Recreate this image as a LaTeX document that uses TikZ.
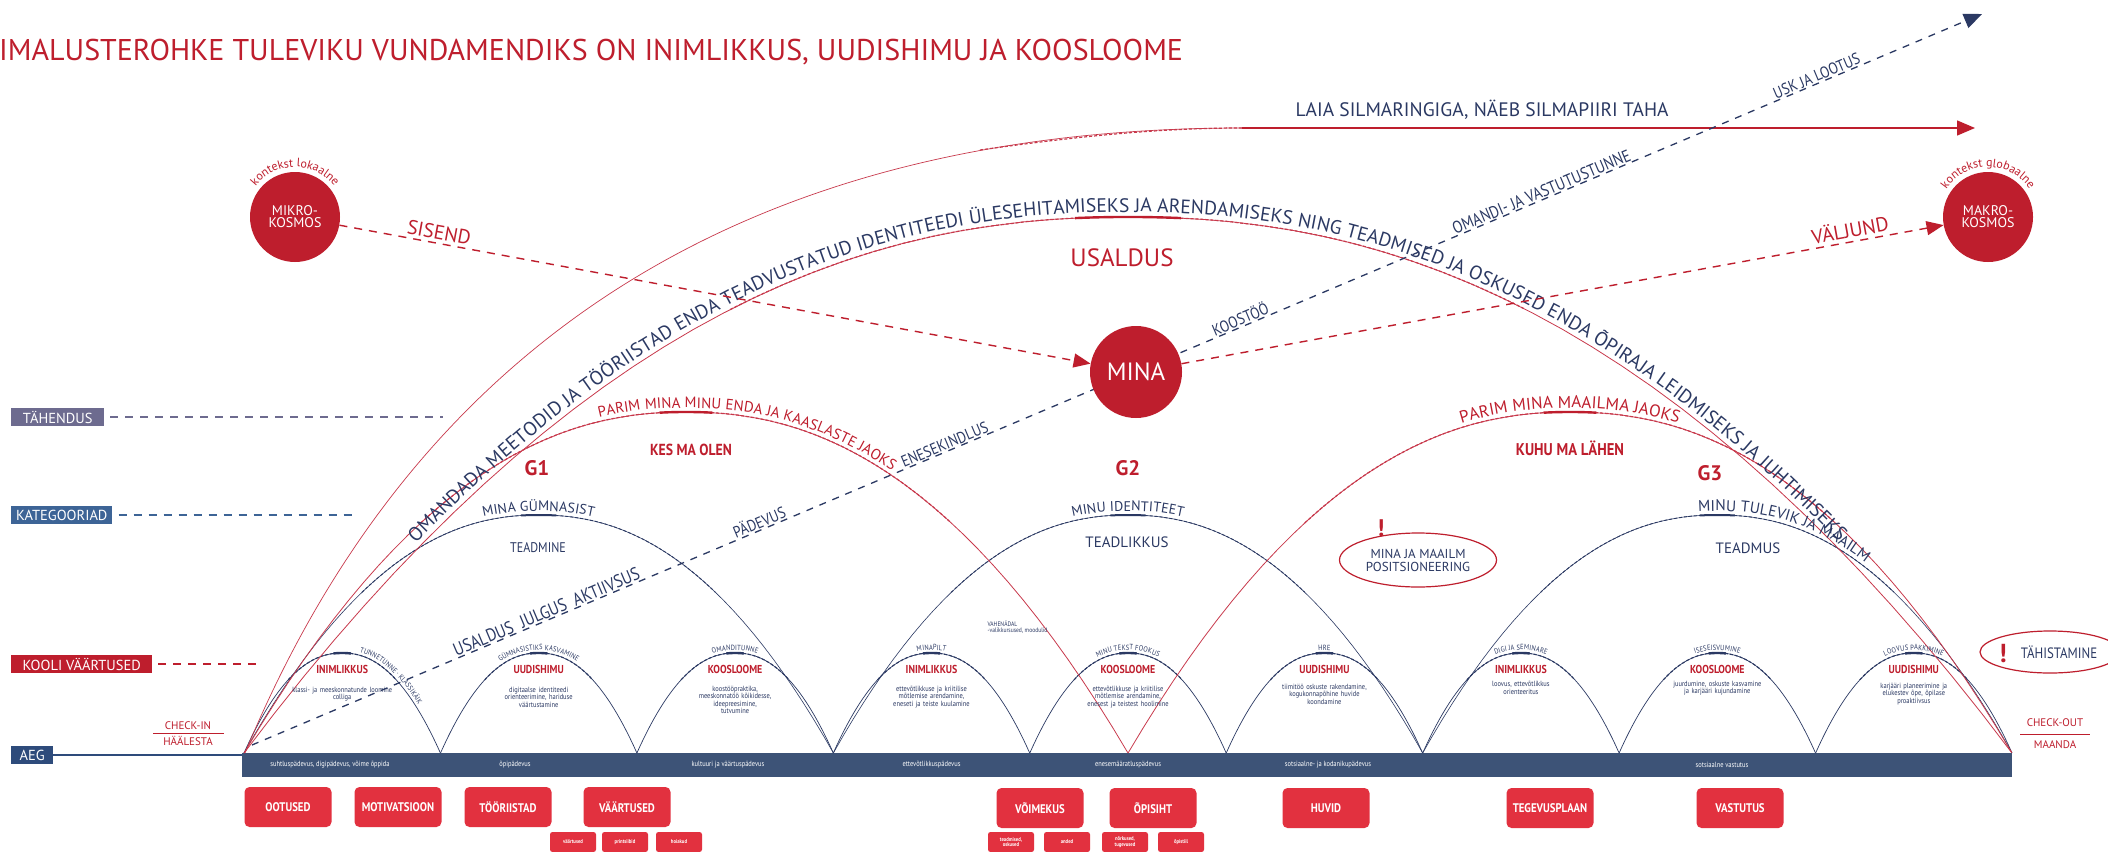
\documentclass[tikz,border=0pt]{standalone}
\usepackage{fontspec}
\setmainfont{PT Sans}
\newfontfamily\cnd{PT Sans}[FakeStretch=0.86]
\usetikzlibrary{arrows.meta,decorations.text,shapes.geometric}
\definecolor{rd}{HTML}{BE1E2D}
\definecolor{rdl}{HTML}{C8394C}
\definecolor{nv}{HTML}{2B3963}
\definecolor{barc}{HTML}{3D5377}
\definecolor{boxr}{HTML}{E2313F}
\definecolor{tahc}{HTML}{6D6B8F}
\definecolor{katc}{HTML}{3D6496}
\definecolor{aegc}{HTML}{2E4B7B}
\newcommand\fs[1]{\fontsize{#1}{#1}\selectfont}
\newcommand\archpath[4]{plot[domain=#4,samples=60,variable=\t] ({#1+#2*\t},{753-#3*archf(\t)})}
\newcommand\archtext[6]{\path[decorate,decoration={text along path,text align=center,#5,text={#6}}] \archpath{#1}{#2}{#3}{#4};}
\begin{document}
\begin{tikzpicture}[x=1pt,y=-1pt,
 declare function={archf(\u)=1-pow(abs(\u)+0.0001,2.2);},
 lab/.style={fill=#1,text=white,font=\fs{14.5},inner xsep=5pt,inner ysep=0pt,minimum height=18pt,anchor=west,text depth=0pt},
 rbox/.style={fill=boxr,rounded corners=5pt,text=white,font=\cnd\fs{12.5}\bfseries,minimum width=87pt,minimum height=40pt,inner sep=1pt,align=center},
 sbox/.style={fill=boxr,rounded corners=2.5pt,text=white,font=\cnd\fs{5.5}\bfseries,minimum width=46pt,minimum height=20pt,inner sep=0.5pt,align=center},
 circ/.style={circle,fill=rd,text=white,align=center,inner sep=0pt,minimum size=#1},
 small/.style={draw=nv,line width=0.7pt},
 smalldash/.style={draw=nv,line width=1.1pt,dash pattern=on 3pt off 2pt},
 topbar/.style={draw=nv,line width=2.4pt},
 redthin/.style={draw=rdl,line width=0.8pt},
 reddash/.style={draw=rdl,line width=1.2pt,dash pattern=on 3pt off 2pt},
 redtop/.style={draw=rd,line width=2.4pt},
 alabel/.style={text=rd,font=\cnd\fs{11.5}\bfseries},
 desc/.style={text=nv,font=\cnd\fs{7.5},align=center,text width=120pt},
 bartxt/.style={text=white,font=\cnd\fs{7.5}},
 dlab/.style={text=nv,font=\cnd\fs{16},sloped,above=-2pt},
 ck/.style={text=rd,font=\fs{11}},
]
\useasboundingbox (0,0) rectangle (2108,851);
\fill[white] (0,0) rectangle (2108,851);

% title
\node[anchor=west,text=rd,font=\fs{30},inner sep=0] (title) at (-1,52) {IMALUSTEROHKE TULEVIKU VUNDAMENDIKS ON INIMLIKKUS, UUDISHIMU JA KOOSLOOME};

% bar
\node[fill=barc,minimum width=1770pt,minimum height=24pt,inner sep=0,anchor=north west] (bar) at (242,753) {};

% small arches
\foreach \c in {342.2,538.7,735.1,931.5,1128.0,1324.4,1520.9,1717.3,1913.8}{
  \draw[small] \archpath{\c}{98.2}{100}{-1:1};
  \draw[smalldash] \archpath{\c}{98.2}{100}{-0.55:0.55};
  \draw[topbar] \archpath{\c}{98.2}{100}{-0.09:0.09};
}
% G arches
\foreach \c in {538.7,1128,1717.3}{
  \draw[small,line width=0.6pt] \archpath{\c}{294.7}{238}{-1:1};
  \draw[smalldash,line width=0.9pt] \archpath{\c}{294.7}{238}{-0.6:0.6};
  \draw[topbar,line width=2pt] \archpath{\c}{294.7}{238}{-0.06:0.06};
}
% red G arches
\foreach \c in {686,1570}{
  \draw[redthin] \archpath{\c}{442}{341}{-1:1};
  \draw[reddash] \archpath{\c}{442}{341}{-0.6:0.6};
  \draw[redtop] \archpath{\c}{442}{341}{-0.06:0.06};
}
% big text arch
\draw[redthin] \archpath{1128}{884}{536}{-1:1};
\draw[reddash] \archpath{1128}{884}{536}{-0.45:0.45};
\draw[redtop] \archpath{1128}{884}{536}{-0.06:0.06};
\archtext{1128}{884}{536}{-0.97:0.97}{raise=5pt,text color=nv}{|\fs{19.5}|OMANDADA MEETODID JA TÖÖRIISTAD ENDA TEADVUSTATUD IDENTITEEDI ÜLESEHITAMISEKS JA ARENDAMISEKS NING TEADMISED JA OSKUSED ENDA ÕPIRAJA LEIDMISEKS JA JUHTIMISEKS}

% outer curve + arrow
\coordinate (o0) at (245,753);
\coordinate (o2) at (1242,128);
\coordinate (o3) at (1975,128);
\draw[redthin,line width=0.7pt] (o0) .. controls (420,330) and (760,128) .. (o2);
\draw[reddash] (980,150) .. controls (1080,136) and (1160,128) .. (o2);
\draw[rd,line width=1.3pt,-{Triangle[length=18pt,width=15pt]}] (o2) -- (o3);
\node[text=nv,font=\fs{19.5}] (laia) at (1482,110) {LAIA SILMARINGIGA, NÄEB SILMAPIIRI TAHA};

% arch labels
\archtext{686}{442}{341}{-0.3:0.55}{raise=4pt,text color=rd}{|\fs{15}|PARIM MINA MINU ENDA JA KAASLASTE JAOKS}
\archtext{1570}{442}{341}{-0.45:0.45}{raise=4pt,text color=rd}{|\fs{17}|PARIM MINA MAAILMA JAOKS}
\archtext{538.7}{294.7}{238}{-0.5:0.5}{raise=4pt,text color=nv}{|\fs{14}|MINA GÜMNASIST}
\archtext{1128}{294.7}{238}{-0.5:0.5}{raise=4pt,text color=nv}{|\fs{14}|MINU IDENTITEET}
\archtext{1717.3}{294.7}{238}{-0.2:0.6}{raise=4pt,text color=nv}{|\fs{15.5}|MINU TULEVIK JA MAAILM}

\node[text=rd,font=\fs{21}\bfseries] (g1) at (537,468) {G1};
\node[text=rd,font=\fs{21}\bfseries] (g2) at (1128,468) {G2};
\node[text=rd,font=\fs{21}\bfseries] (g3) at (1710,473) {G3};
\node[text=rd,font=\cnd\fs{16}\bfseries] (kes) at (691,450) {KES MA OLEN};
\node[text=rd,font=\cnd\fs{17}\bfseries] (kuhu) at (1570,448) {KUHU MA LÄHEN};
\node[text=nv,font=\cnd\fs{14}] (t1) at (538,548) {TEADMINE};
\node[text=nv,font=\fs{15}] (t2) at (1127,542) {TEADLIKKUS};
\node[text=nv,font=\fs{15}] (t3) at (1748,548) {TEADMUS};
\node[text=rd,font=\fs{25}] (usaldus) at (1122,258) {USALDUS};

% dashed navy arrow
\coordinate (ds) at (252,745);
\coordinate (de) at (1982,14);
\draw[nv,line width=1.3pt,dash pattern=on 7pt off 7pt,-{Triangle[length=18pt,width=15pt]}] (ds) -- (de);
\path (ds) -- (de)
  node[dlab,pos=0.172,font=\cnd\fs{18}] {USALDUS\ \ JULGUS\ \ AKTIIVSUS}
  node[dlab,pos=0.295] {PÄDEVUS}
  node[dlab,pos=0.402] {ENESEKINDLUS}
  node[dlab,pos=0.573] {KOOSTÖÖ}
  node[dlab,pos=0.747,font=\cnd\fs{17}] {OMANDI- JA VASTUTUSTUNNE}
  node[dlab,pos=0.906] {USK JA LOOTUS};

% circles
\node[circ=90pt] (mikro) at (295,217) {\fs{14}MIKRO-\\\fs{14}KOSMOS};
\node[circ=92pt] (mina) at (1136,372) {\fs{25}MINA};
\node[circ=90pt] (makro) at (1988,217) {\fs{14}MAKRO-\\\fs{14}KOSMOS};
\path[decorate,decoration={text along path,text align=center,text color=rd,text={|\fs{12}|kontekst lokaalne}}] (mikro.center) ++(200:50) arc[start angle=200,end angle=340,radius=50];
\path[decorate,decoration={text along path,text align=center,text color=rd,text={|\fs{12}|kontekst globaalne}}] (makro.center) ++(200:50) arc[start angle=200,end angle=340,radius=50];

\draw[rd,line width=1.4pt,dash pattern=on 8pt off 7pt,-{Triangle[length=17pt,width=14pt]}] (mikro) -- node[pos=0.13,sloped,above=0pt,text=rd,font=\fs{20}] {SISEND} (mina);
\draw[rd,line width=1.4pt,dash pattern=on 8pt off 7pt,-{Triangle[length=17pt,width=14pt]}] (mina) -- node[pos=0.88,sloped,above=0pt,text=rd,font=\fs{20}] {VÄLJUND} (makro);

% left labels
\node[lab=tahc,minimum width=93pt] (tah) at (11,417) {TÄHENDUS};
\node[lab=katc,minimum width=99pt] (kat) at (11,515) {KATEGOORIAD};
\node[lab=rd,minimum width=141pt] (kool) at (11,664) {KOOLI VÄÄRTUSED};
\node[lab=aegc,minimum width=42pt] (aeg) at (11,755) {AEG};
\coordinate (tahe) at (443,417);
\coordinate (kate) at (356,515);
\coordinate (koole) at (262,664);
\draw[tahc,line width=1.6pt,dash pattern=on 8pt off 7pt,shorten <=6pt] (tah.east) -- (tahe);
\draw[katc,line width=1.6pt,dash pattern=on 8pt off 7pt,shorten <=6pt] (kat.east) -- (kate);
\draw[rd,line width=1.6pt,dash pattern=on 8pt off 7pt,shorten <=6pt] (kool.east) -- (koole);
\draw[aegc,line width=1.6pt] (aeg.east) -- (aeg.east -| bar.west);

% check in / out
\node[ck] (cin) at (188,726) {CHECK-IN};
\node[ck] (hal) at (188,741) {HÄÄLESTA};
\draw[rd,line width=0.6pt] (153,733.5) -- (224,733.5);
\node[ck] (cout) at (2055,723) {CHECK-OUT};
\node[ck] (maa) at (2055,745) {MAANDA};
\draw[rd,line width=0.6pt] (2020,734) -- (2090,734);

% small arch labels
\foreach \c/\t in {342.2/INIMLIKKUS,538.7/UUDISHIMU,735.1/KOOSLOOME,931.5/INIMLIKKUS,1128.0/KOOSLOOME,1324.4/UUDISHIMU,1520.9/INIMLIKKUS,1717.3/KOOSLOOME,1913.8/UUDISHIMU}
  \node[alabel] at (\c,669) {\t};
\node[desc] (d1) at (342.2,694) {klassi- ja meeskonnatunde loomine\\ colliga};
\node[desc] (d2) at (538.7,697) {digitaalse identiteedi\\ orienteerimine, hariduse\\ väärtustamine};
\node[desc] (d3) at (735.1,700) {koostööpraktika,\\ meeskonnatöö kõikidesse,\\ ideepreesimine,\\ tutvumine};
\node[desc] (d4) at (931.5,697) {ettevõtlikkuse ja kriitilise\\ mõtlemise arendamine,\\ eneseti ja teiste kuulamine};
\node[desc] (d5) at (1128.0,697) {ettevõtlikkuse ja kriitilise\\ mõtlemise arendamine,\\ enesest ja teistest hoolimine};
\node[desc] (d6) at (1324.4,694) {tiimitöö oskuste rakendamine,\\ kogukonnapõhine huvide\\ koondamine};
\node[desc] (d7) at (1520.9,688) {loovus, ettevõtlikkus\\ orienteeritus};
\node[desc] (d8) at (1717.3,688) {juurdumine, oskuste kasvamine\\ ja karjääri kujundamine};
\node[desc] (d9) at (1913.8,694) {karjääri planeerimine ja\\ elukestev õpe, õpilase\\ proaktiivsus};
\node[text=nv,font=\cnd\fs{6.5},align=left,anchor=west] (vahe) at (984,627) {VAHENÄDAL\\ -valikkursused, moodulid};

% small arch top labels
\archtext{342.2}{98.2}{100}{-0.35:1}{raise=3pt,text color=nv}{|\cnd\fs{7.5}|TUNNETUNNE · KLASSIKÄIK}
\archtext{538.7}{98.2}{100}{-0.6:0.6}{raise=3pt,text color=nv}{|\cnd\fs{7.5}|GÜMNASISTIKS KASVAMINE}
\archtext{735.1}{98.2}{100}{-0.6:0.6}{raise=3pt,text color=nv}{|\cnd\fs{7.5}|OMANDITUNNE}
\archtext{931.5}{98.2}{100}{-0.6:0.6}{raise=3pt,text color=nv}{|\cnd\fs{7.5}|MINAPILT}
\archtext{1128.0}{98.2}{100}{-0.6:0.6}{raise=3pt,text color=nv}{|\cnd\fs{7.5}|MINU TEKST FOOKUS}
\archtext{1324.4}{98.2}{100}{-0.6:0.6}{raise=3pt,text color=nv}{|\cnd\fs{7.5}|HRE}
\archtext{1520.9}{98.2}{100}{-0.6:0.6}{raise=3pt,text color=nv}{|\cnd\fs{7.5}|DIGI JA SEMINARE}
\archtext{1717.3}{98.2}{100}{-0.6:0.6}{raise=3pt,text color=nv}{|\cnd\fs{7.5}|ISESEISVUMINE}
\archtext{1913.8}{98.2}{100}{-0.6:0.6}{raise=3pt,text color=nv}{|\cnd\fs{7.5}|LOOVUS PAKKIMINE}

% bar texts
\node[bartxt] at (330,765) {suhtluspädevus, digipädevus, võime õppida};
\node[bartxt] at (515,765) {õpipädevus};
\node[bartxt] at (728,765) {kultuuri ja väärtuspädevus};
\node[bartxt] at (931.5,765) {ettevõtlikkuspädevus};
\node[bartxt] at (1128,765) {enesemääratluspädevus};
\node[bartxt] at (1328,765) {sotsiaalne- ja kodanikupädevus};
\node[bartxt] at (1722,765) {sotsiaalne vastutus};

% ovals
\node[ellipse,draw=rd,line width=1.2pt,minimum width=157pt,minimum height=54pt,text=nv,font=\fs{13},align=center,inner sep=0] (mjm) at (1418,560) {MINA JA MAAILM\\ POSITSIONEERING};
\node[text=rd,font=\fs{24}\bfseries] (ex1) at (1381,528) {!};
\node[ellipse,draw=rd,line width=1.2pt,minimum width=140pt,minimum height=42pt] (tahi) at (2050,652) {};
\node[text=nv,font=\cnd\fs{15}] (tahit) at (2059,652) {TÄHISTAMINE};
\node[text=rd,font=\fs{26}\bfseries] (ex2) at (2003,654) {!};

% bottom boxes
\node[rbox] (b1) at (288,807) {OOTUSED};
\node[rbox] (b2) at (398,807) {MOTIVATSIOON};
\node[rbox] (b3) at (508,807) {TÖÖRIISTAD};
\node[rbox] (b4) at (627,807) {VÄÄRTUSED};
\node[rbox] (b5) at (1040,808) {VÕIMEKUS};
\node[rbox] (b6) at (1153,808) {ÕPISIHT};
\node[rbox] (b7) at (1326,808) {HUVID};
\node[rbox] (b8) at (1550,808) {TEGEVUSPLAAN};
\node[rbox] (b9) at (1740,808) {VASTUTUS};
\node[sbox] (s1) at (573,842) {väärtused};
\node[sbox] (s2) at (625,842) {printsiibid};
\node[sbox] (s3) at (679,842) {hoiakud};
\node[sbox] (s4) at (1011,842) {teadmised,\\ oskused};
\node[sbox] (s5) at (1067,842) {anded};
\node[sbox] (s6) at (1125,842) {nõrkused,\\ tugevused};
\node[sbox] (s7) at (1181,842) {õpistiil};
\end{tikzpicture}
\end{document}
